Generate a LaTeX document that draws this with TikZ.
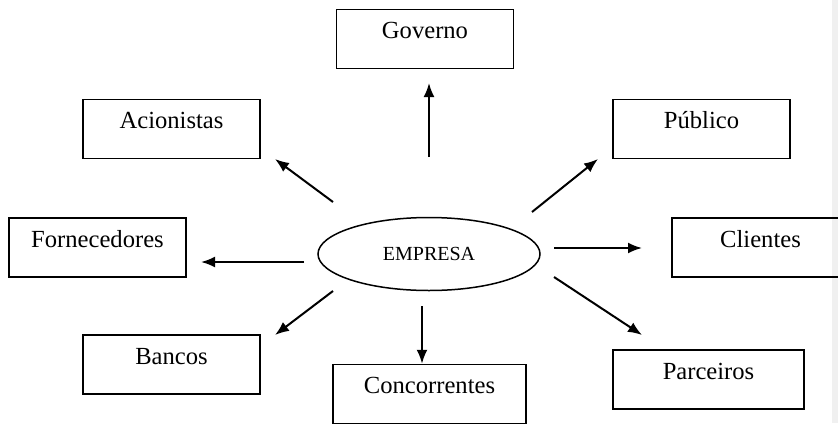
\documentclass[tikz,border=0pt]{standalone}
\usepackage{fontspec}
\setmainfont{Liberation Serif}
\usetikzlibrary{arrows.meta,shapes.geometric}

\tikzset{
	caixa/.style={draw, line width=0.75pt, minimum width=88.5pt, minimum height=29.5pt,
		inner sep=0pt, text height=0.95em, text depth=1em, font=\fontsize{12.3}{14}\selectfont},
	seta/.style={line width=1pt, -{Latex[length=7pt,width=5.5pt]}}
}

\begin{document}
\begin{tikzpicture}[x=0.5pt,y=-0.5pt]
	% Moldura
	\clip (0,0) rectangle (838,423);
	\useasboundingbox (0,0) rectangle (838,423);
	\fill[black!6] (832,0) rectangle (838,423);
	
	% Empresa no centro
	\node[draw, ellipse, line width=0.75pt, minimum width=111pt, minimum height=36.5pt,
		inner sep=0pt, font=\fontsize{10}{12}\selectfont] (emp) at (429,254) {EMPRESA};
	
	% Caixas
	\node[caixa] (gov) at (425,39) {Governo};
	\node[caixa] (acio) at (171.5,129) {Acionistas};
	\node[caixa] (pub) at (701.5,129) {Público};
	\node[caixa] (forn) at (97.5,247.5) {Fornecedores};
	\node[caixa] (cli) at (760.5,247.5) {Clientes};
	\node[caixa] (banc) at (171.5,364.5) {Bancos};
	\node[caixa, minimum width=96.5pt] (conc) at (429.5,394) {Concorrentes};
	\node[caixa, minimum width=95.5pt] (parc) at (708.5,379.5) {Parceiros};
	
	% Pontas das setas
	\coordinate (g1) at (429,157);   \coordinate (g2) at (429,83);
	\coordinate (a1) at (333,202);   \coordinate (a2) at (275,159);
	\coordinate (p1) at (532,212);   \coordinate (p2) at (598,159);
	\coordinate (f1) at (304,262);   \coordinate (f2) at (201,262);
	\coordinate (cl1) at (554,248);  \coordinate (cl2) at (642,248);
	\coordinate (b1) at (333,291);   \coordinate (b2) at (275,335);
	\coordinate (co1) at (422,306);
	\coordinate (pa1) at (554,277);  \coordinate (pa2) at (642,335);
	
	% Setas
	\draw[seta] (g1) -- (g2);
	\draw[seta] (a1) -- (a2);
	\draw[seta] (p1) -- (p2);
	\draw[seta] (f1) -- (f2);
	\draw[seta] (cl1) -- (cl2);
	\draw[seta] (b1) -- (b2);
	\draw[seta] (co1) -- (co1 |- conc.north);
	\draw[seta] (pa1) -- (pa2);
\end{tikzpicture}
\end{document}
